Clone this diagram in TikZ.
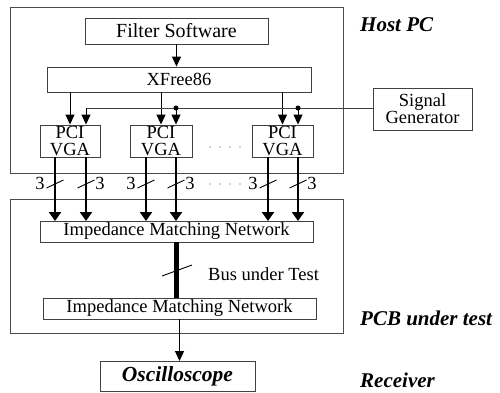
\documentclass[tikz,border=0pt]{standalone}
\usepackage{fontspec}
\setmainfont{Liberation Serif}
\usetikzlibrary{arrows.meta,calc}
\tikzset{
  box/.style={draw=black!75, line width=0.9pt, inner sep=0pt, align=center, font=\fontsize{18.5}{17}\selectfont},
  frame/.style={draw=black!70, line width=1pt, inner sep=0pt},
  thin/.style={draw=black, line width=1pt, -{Triangle[length=10pt,width=9pt]}},
  thick/.style={draw=black, line width=2.2pt, -{Triangle[length=9pt,width=12pt]}},
  sl/.style={draw=black, line width=0.9pt},
  lbl/.style={font=\fontsize{18.5}{20}\selectfont, inner sep=0pt},
  big/.style={font=\fontsize{21}{22}\selectfont\bfseries\itshape, inner sep=0pt, anchor=west},
  jdot/.style={circle, fill=black, inner sep=0pt, minimum size=5pt},
}
\begin{document}
\begin{tikzpicture}[x=1pt, y=-1pt]
\useasboundingbox (0,0) rectangle (500,392);
% frames
\node[frame, minimum width=333pt, minimum height=166pt] (host) at (176.5,90) {};
\node[frame, minimum width=333pt, minimum height=134pt] (pcb) at (176.5,266) {};
% boxes
\node[box, minimum width=183pt, minimum height=26pt, font=\fontsize{20}{20}\selectfont] (filter) at (176.5,31) {Filter Software};
\node[box, minimum width=264pt, minimum height=25pt] (xfree) at (179,79.5) {XFree86};
\node[box, minimum width=60pt, minimum height=32pt] (pci1) at (70,141) {PCI\\VGA};
\node[box, minimum width=62pt, minimum height=32pt] (pci2) at (161,141) {PCI\\VGA};
\node[box, minimum width=61pt, minimum height=32pt] (pci3) at (282.5,141) {PCI\\VGA};
\node[box, minimum width=99pt, minimum height=42pt] (sig) at (422.5,109) {Signal\\Generator};
\node[box, minimum width=273pt, minimum height=21pt] (imn1) at (176.5,231.5) {Impedance Matching Network};
\node[box, minimum width=273pt, minimum height=21pt] (imn2) at (179.5,308.5) {Impedance Matching Network};
\node[box, minimum width=155pt, minimum height=30pt, font=\fontsize{21.5}{22}\selectfont\bfseries\itshape] (osc) at (177.5,376.5) {Oscilloscope};
% big labels
\node[big] (lhost) at (360,25) {Host PC};
\node[big] (lpcb) at (360,318) {PCB under test};
\node[big] (lrec) at (360,380) {Receiver};
% software arrows
\draw[thin] (filter.south) -- (filter.south |- xfree.north);
\draw[thin] (xfree.south -| pci1.north) -- (pci1.north);
\draw[thin] (xfree.south -| pci2.north) -- (pci2.north);
\draw[thin] (xfree.south -| pci3.north) -- (pci3.north);
% signal line
\coordinate (s1) at (86,108);
\coordinate (s2) at (176,108);
\coordinate (s3) at (298,108);
\draw[draw=black!75, line width=1pt] (sig.west |- s1) -- (s1);
\draw[thin] (s1) -- (s1 |- pci1.north);
\draw[thin] (s2) -- (s2 |- pci2.north);
\draw[thin] (s3) -- (s3 |- pci3.north);
\node[jdot] (d2) at (s2) {};
\node[jdot] (d3) at (s3) {};
% outputs
\foreach \x in {55, 86, 146, 176, 268, 298} {
  \draw[thick] (\x,157) -- (\x,221);
  \draw[sl] (\x-8.5,188) -- (\x+8.5,180);
}
\foreach \x in {55,146,268} { \node[lbl] at (\x-15,183) {3}; }
\foreach \x in {86,176,298} { \node[lbl] at (\x+14,183) {3}; }
% dots
\foreach \x in {210,220,230,240} {
  \fill[black!75] (\x,147) circle (0.7pt);
  \fill[black!75] (\x,184) circle (0.7pt);
}
% bus
\draw[line width=5pt] (imn1.south) -- (imn1.south |- imn2.north);
\draw[sl] (162,276) -- (192,265);
\node[lbl, anchor=west] (bus) at (208,274) {Bus under Test};
% to oscilloscope
\draw[thin] (imn2.south) -- (imn2.south |- osc.north);
\end{tikzpicture}
\end{document}
